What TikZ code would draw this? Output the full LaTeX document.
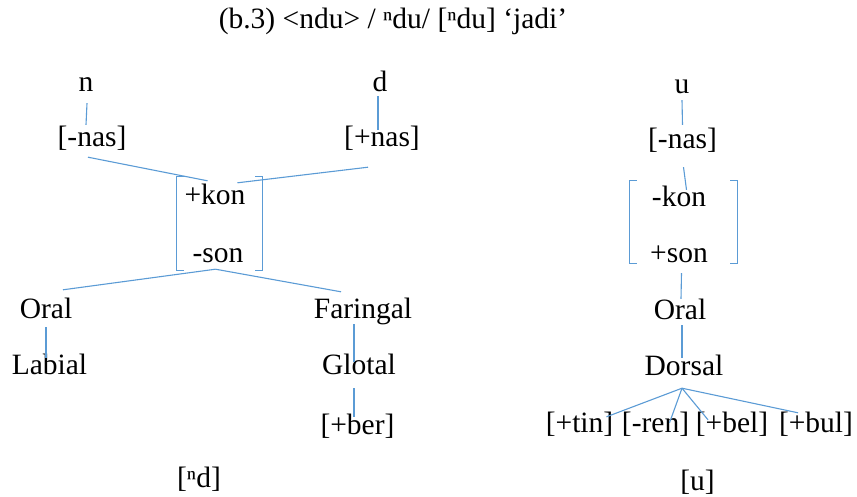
\documentclass[tikz,border=0pt]{standalone}
\usepackage{fontspec}
\setmainfont{Liberation Serif}
\definecolor{linkblue}{RGB}{91,155,213}
\tikzset{
  txt/.style={inner sep=0pt,text height=20pt,text depth=6pt,font=\fontsize{29.5}{31}\selectfont},
  lk/.style={draw=linkblue,line width=1.1pt},
  mat/.style={inner sep=0pt,minimum width=#1}
}
\begin{document}
\begin{tikzpicture}[x=1pt,y=-1pt]
      \useasboundingbox (0,0) rectangle (857,497);
      \node[txt] (title) at (393,22) {(b.3) <ndu> / ⁿdu/ [ⁿdu] ‘jadi’};
      \node[txt] (n) at (86,85) {n};
      \node[txt] (nasl) at (92,140) {[-nas]};
      \node[txt] (d) at (380,85) {d};
      \node[txt] (nasr) at (382,140) {[+nas]};
      \node[mat=85pt,minimum height=93pt] (mtl) at (219.5,223.5) {};
      \node[txt] (kon) at (215,198) {+kon};
      \node[txt] (son) at (218,255) {-son};
      \node[txt] (orl) at (46,311) {Oral};
      \node[txt] (lab) at (49.5,367) {Labial};
      \node[txt] (far) at (363,311) {Faringal};
      \node[txt] (glo) at (359,367) {Glotal};
      \node[txt] (ber) at (357.5,427) {[+ber]};
      \node[txt] (nd) at (199,480) {[ⁿd]};
      \node[txt] (u) at (682,87) {u};
      \node[txt] (nasu) at (682.5,142) {[-nas]};
      \node[mat=107pt,minimum height=82pt] (mtr) at (683.5,222) {};
      \node[txt] (konr) at (679,200) {-kon};
      \node[txt] (sonr) at (679,255) {+son};
      \node[txt] (orr) at (680,312) {Oral};
      \node[txt] (dor) at (684,368) {Dorsal};
      \node[txt] (tin) at (579.5,425) {[+tin]};
      \node[txt] (ren) at (655.5,425) {[-ren]};
      \node[txt] (bel) at (732,425) {[+bel]};
      \node[txt] (bul) at (816,425) {[+bul]};
      \node[txt] (uu) at (697.5,483) {[u]};
      \draw[lk] ([xshift=7pt]mtl.north west) -- (mtl.north west) -- (mtl.south west) -- ++(7pt,0);
      \draw[lk] ([xshift=-7pt]mtl.north east) -- (mtl.north east) -- (mtl.south east) -- ++(-7pt,0);
      \draw[lk] ([xshift=7pt]mtr.north west) -- (mtr.north west) -- (mtr.south west) -- ++(7pt,0);
      \draw[lk] ([xshift=-7pt]mtr.north east) -- (mtr.north east) -- (mtr.south east) -- ++(-7pt,0);
      \draw[lk] ([xshift=1pt,yshift=-5pt]n.south) -- ([xshift=-6pt,yshift=2pt]nasl.north);
      \draw[lk] ([xshift=-2pt,yshift=2pt]d.south) -- ([xshift=-4pt,yshift=-3pt]nasr.north);
      \draw[lk] ([xshift=-4pt,yshift=-4pt]nasl.south) -- ([xshift=-12pt,yshift=-4pt]mtl.north);
      \draw[lk] ([xshift=-14pt,yshift=-14pt]nasr.south) -- ([xshift=18pt,yshift=-6pt]mtl.north);
      \draw[lk] ([xshift=-4pt,yshift=1pt]mtl.south) -- ([xshift=17pt,yshift=8pt]orl.north);
      \draw[lk] ([xshift=-4pt,yshift=1pt]mtl.south) -- ([xshift=-22pt,yshift=6pt]far.north);
      \draw[lk] ([yshift=-3pt]orl.south) -- ([xshift=-3.5pt,yshift=-4pt]lab.north);
      \draw[lk] ([xshift=-9pt]far.south) -- ([xshift=-5pt,yshift=-8pt]glo.north);
      \draw[lk] ([xshift=-5pt,yshift=-8pt]glo.south) -- ([xshift=-3.5pt,yshift=-3pt]ber.north);
      \draw[lk] (u.south) -- ([yshift=4pt]nasu.north);
      \draw[lk] ([xshift=1pt,yshift=-12pt]nasu.south) -- ([xshift=3pt,yshift=-9pt]mtr.north);
      \draw[lk] ([xshift=-2pt,yshift=-10pt]mtr.south) -- ([xshift=1pt]orr.north);
      \draw[lk] ([xshift=2pt]orr.south) -- ([xshift=-2pt,yshift=-3pt]dor.north);
      \draw[lk] ([xshift=-2pt,yshift=-7pt]dor.south) -- ([xshift=27pt,yshift=-5pt]tin.north);
      \draw[lk] ([xshift=-2pt,yshift=-7pt]dor.south) -- ([xshift=14pt,yshift=-11pt]ren.north);
      \draw[lk] ([xshift=-2pt,yshift=-7pt]dor.south) -- ([xshift=-24pt,yshift=-8pt]bel.north);
      \draw[lk] ([xshift=-2pt,yshift=-7pt]dor.south) -- ([xshift=-18pt,yshift=-1pt]bul.north);
    \end{tikzpicture}
\end{document}
